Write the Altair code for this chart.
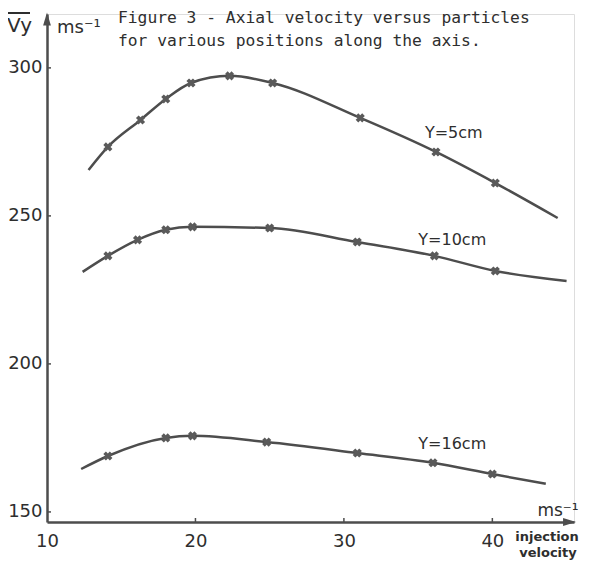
import altair as alt
import pandas as pd

# ---- data ----
series_names = ["Y=5cm", "Y=10cm", "Y=16cm"]

x_5cm = [12.8, 14.1, 16.3, 18.0, 19.7, 22.3, 25.2, 31.1, 36.2, 40.2, 44.4]
y_5cm = [265.5, 273.3, 282.4, 289.5, 294.9, 297.3, 294.9, 283.1, 271.6, 261.1, 249.3]

x_10cm = [12.4, 14.1, 16.1, 18.0, 19.8, 25.0, 30.9, 36.1, 40.2, 45.0]
y_10cm = [231.1, 236.5, 241.9, 245.3, 246.3, 245.9, 241.2, 236.5, 231.4, 228.0]

x_16cm = [12.3, 14.1, 18.0, 19.8, 24.8, 30.9, 36.0, 40.0, 43.6]
y_16cm = [164.5, 168.9, 175.0, 175.7, 173.6, 169.9, 166.6, 162.8, 159.5]

label_x = [37.4, 37.3, 37.3]
label_y = [278.0, 241.9, 173.0]

x_tick_values = [10, 20, 30, 40]
y_tick_values = [150, 200, 250, 300]
x_inner_ticks = [20, 30, 40]
y_inner_ticks = [150, 200, 250, 300]

title_lines = ["Figure 3 - Axial velocity versus particles",
               "for various positions along the axis."]

# ---- tables ----
rows = []
for name, xs, ys in zip(series_names, [x_5cm, x_10cm, x_16cm], [y_5cm, y_10cm, y_16cm]):
    n = len(xs)
    for i, (xv, yv) in enumerate(zip(xs, ys)):
        rows.append({"series": name, "v_inj": xv, "v_axial": yv, "order": i,
                     "marker": 0 < i < n - 1})
df = pd.DataFrame(rows)
labels_df = pd.DataFrame({"series": series_names, "v_inj": label_x, "v_axial": label_y})

W, H = 527, 508
INK = "#4d4d4d"
TXT = "#2e2e2e"

xscale = alt.Scale(domain=[10, 45.5], nice=False, zero=False)
yscale = alt.Scale(domain=[146.6, 318.2], nice=False, zero=False)

xaxis = alt.Axis(values=x_tick_values, ticks=False, grid=False, title=None,
                 domainColor=INK, domainWidth=2.5, labelFont="DejaVu Sans",
                 labelFontSize=18, labelColor=TXT, labelPadding=10,
                 labelFlush=False, labelOverlap=False)
yaxis = alt.Axis(values=y_tick_values, ticks=False, grid=False, title=None,
                 domainColor=INK, domainWidth=2.5, labelFont="DejaVu Sans",
                 labelFontSize=18, labelColor=TXT, labelPadding=5,
                 labelFlush=False, labelOverlap=False, labelBaseline="middle")

X = lambda: alt.X("v_inj:Q", scale=xscale, axis=xaxis)
Y = lambda: alt.Y("v_axial:Q", scale=yscale, axis=yaxis)

lines = alt.Chart(df).mark_line(interpolate="monotone", color=INK, strokeWidth=2.5).encode(
    x=X(), y=Y(), detail="series:N", order="order:Q")

markers = alt.Chart(df).transform_filter("datum.marker").mark_point(
    shape="cross", angle=45, filled=True, size=85, color="#5a5a5a", opacity=1).encode(
    x=X(), y=Y())

series_labels = alt.Chart(labels_df).mark_text(
    font="DejaVu Sans", fontSize=16, color=TXT, align="center", baseline="middle").encode(
    x=X(), y=Y(), text="series:N")

yt = alt.Chart(pd.DataFrame({"v_axial": y_inner_ticks})).mark_rule(
    color=INK, strokeWidth=1.5).encode(y=Y(), x=alt.value(0), x2=alt.value(4))
xt = alt.Chart(pd.DataFrame({"v_inj": x_inner_ticks})).mark_rule(
    color=INK, strokeWidth=1.5).encode(x=X(), y=alt.value(H), y2=alt.value(H - 4))

y_arrow = alt.Chart(pd.DataFrame({"v_axial": [316.5]})).mark_point(
    shape="M-0.6,1L0,-1L0.6,1Z", size=169, filled=True, color=INK, opacity=1).encode(
    y=Y(), x=alt.value(0))
x_arrow = alt.Chart(pd.DataFrame({"v_inj": [45.2]})).mark_point(
    shape="M-1,-0.6L1,0L-1,0.6Z", size=169, filled=True, color=INK, opacity=1).encode(
    x=X(), y=alt.value(H))


def txt(s, px, py, size, font="DejaVu Sans", align="left", baseline="alphabetic", weight="normal"):
    return alt.Chart(pd.DataFrame({"t": [s]})).mark_text(
        font=font, fontSize=size, color=TXT, align=align, baseline=baseline,
        fontWeight=weight).encode(x=alt.value(px), y=alt.value(py), text="t:N")


title1 = txt(title_lines[0], 71, 9, 16.3, font="DejaVu Sans Mono")
title2 = txt(title_lines[1], 71, 32, 16.3, font="DejaVu Sans Mono")
vy = txt("Vy", -40, 18, 20)
vy_bar = alt.Chart(pd.DataFrame({"t": [0]})).mark_rule(color=TXT, strokeWidth=2).encode(
    x=alt.value(-40), x2=alt.value(-17), y=alt.value(-1))
y_unit = txt("ms⁻¹", 10, 19, 18)
x_unit = txt("ms⁻¹", 511, 497, 17, align="center", baseline="middle")
inj1 = txt("injection", 500, 527, 13, align="center", baseline="alphabetic", weight="bold")
inj2 = txt("velocity", 501, 543, 13, align="center", baseline="alphabetic", weight="bold")

chart = alt.layer(
    lines, markers, series_labels, yt, xt, y_arrow, x_arrow,
    title1, title2, vy, vy_bar, y_unit, x_unit, inj1, inj2
).properties(
    width=W, height=H,
    autosize=alt.AutoSizeParams(type="none"),
    padding={"left": 39, "top": 6, "right": 7, "bottom": 39},
).configure_view(stroke=None).configure(background="white")

chart.save("out.html", embed_options={"renderer": "svg", "actions": False})
